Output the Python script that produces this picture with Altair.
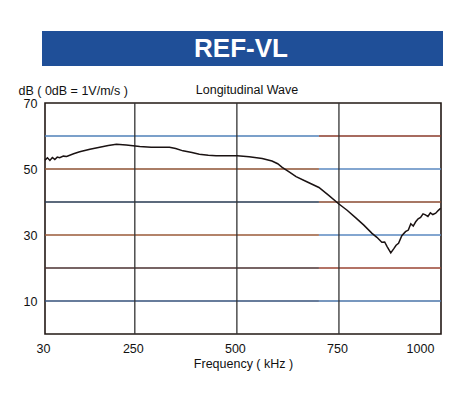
import altair as alt
import pandas as pd

# Curve values (frequency kHz, dB)
freq = [30, 36, 42, 48, 54, 60, 66, 75, 83, 100, 115, 130, 140, 164, 185, 205, 229, 262, 290, 311,
        335, 350, 368, 390, 408, 430, 449, 475, 501, 530, 562, 586, 600, 611, 628, 645, 670, 701,
        725, 750, 770, 792, 811, 831, 843, 855, 862, 868, 877, 884, 890, 896, 904, 913, 920, 926,
        932, 938, 944, 950, 956, 962, 968, 974, 980, 987, 993, 999]
db = [52.7, 53.4, 52.6, 53.5, 52.9, 53.6, 53.4, 53.9, 53.8, 54.6, 55.2, 55.7, 56.0, 56.6, 57.1, 57.5,
      57.3, 56.8, 56.6, 56.6, 56.6, 56.2, 55.5, 55.0, 54.5, 54.2, 54.0, 54.0, 54.0, 53.7, 53.2, 52.4,
      51.6, 50.5, 49.1, 47.7, 46.2, 44.4, 42.0, 39.4, 37.5, 35.1, 33.0, 30.5, 29.3, 27.8, 27.9, 26.5,
      24.6, 25.8, 26.9, 27.5, 29.8, 31.0, 31.5, 33.4, 32.7, 34.0, 34.9, 35.3, 36.4, 36.1, 35.6, 36.7,
      36.2, 36.6, 37.4, 38.1]

y_ticks = [70, 50, 30, 10]
x_ticks = [30, 250, 500, 750, 1000]
v_grid = [250, 500, 750]
h_grid = [60, 50, 40, 30, 20, 10]
left_colors = ["#4f80b8", "#8e5233", "#263850", "#9a5a38", "#4a3030", "#34507a"]
right_colors = ["#8a3a2a", "#5a88c0", "#8a4a30", "#5a88c0", "#9a4433", "#4a74a8"]
split = 701
x_min, x_max = 30, 1000

FONT = "Liberation Sans"

curve = pd.DataFrame({"f": freq, "db": db})
gl = pd.DataFrame({"y": h_grid, "x": [x_min] * 6, "x2": [split] * 6, "c": left_colors})
gr = pd.DataFrame({"y": h_grid, "x": [split] * 6, "x2": [x_max] * 6, "c": right_colors})
vg = pd.DataFrame({"x": v_grid})
one = pd.DataFrame({"t": ["REF-VL"]})

xs = alt.Scale(domain=[x_min, x_max], nice=False, zero=False)
ys = alt.Scale(domain=[0, 70], nice=False)

xax = alt.Axis(values=x_ticks, title="Frequency ( kHz )", ticks=False, domain=False,
               grid=False, labelFlush=False, labelPadding=8, format="d",
               labelOffset={"condition": {"test": "datum.value == 1000", "value": -21},
                            "value": -2},
               labelFontSize=12.5, titleFontSize=12.5, titleFontWeight="normal",
               labelColor="#111", titleColor="#111", titlePadding=3,
               labelFont=FONT, titleFont=FONT)
yax = alt.Axis(values=y_ticks, title="dB ( 0dB = 1V/m/s )", ticks=False, domain=False,
               grid=False, labelPadding=8, labelFontSize=12.5, titleFontSize=12.5,
               titleFontWeight="normal", titleAngle=0, titleAlign="left",
               titleBaseline="alphabetic", titleX=-27, titleY=-9,
               labelColor="#111", titleColor="#111", labelFont=FONT, titleFont=FONT)

grid_left = alt.Chart(gl).mark_rule(strokeWidth=1.3).encode(
    x=alt.X("x:Q", scale=xs, axis=xax), x2="x2",
    y=alt.Y("y:Q", scale=ys, axis=yax),
    color=alt.Color("c:N", scale=None))
grid_right = alt.Chart(gr).mark_rule(strokeWidth=1.3).encode(
    x=alt.X("x:Q", scale=xs, axis=xax), x2="x2",
    y=alt.Y("y:Q", scale=ys, axis=yax),
    color=alt.Color("c:N", scale=None))
vlines = alt.Chart(vg).mark_rule(color="#333333", strokeWidth=1.3).encode(
    x=alt.X("x:Q", scale=xs, axis=xax))

line = alt.Chart(curve).mark_line(color="#1a1212", strokeWidth=1.5).encode(
    x=alt.X("f:Q", scale=xs, axis=xax),
    y=alt.Y("db:Q", scale=ys, axis=yax))

banner = alt.Chart(one).mark_rect(color="#1f4f98").encode(
    x=alt.value(-3), x2=alt.value(398), y=alt.value(-72), y2=alt.value(-37))
banner_text = alt.Chart(one).mark_text(color="white", fontSize=26, fontWeight="bold", font=FONT,
                                       align="center", baseline="middle").encode(
    x=alt.value(196), y=alt.value(-54), text="t:N")
subtitle = alt.Chart(one).mark_text(color="#111", fontSize=12.5, font=FONT, align="center",
                                    baseline="alphabetic").encode(
    x=alt.value(202), y=alt.value(-9), text=alt.value("Longitudinal Wave"))

chart = alt.layer(grid_left, grid_right, vlines, line, banner, banner_text, subtitle).properties(
    width=396, height=231,
    padding={"left": 10, "top": 23, "right": 5, "bottom": 5},
    background="white",
).configure_view(stroke="#221814", strokeWidth=1.6)

chart.save("out.html", embed_options={"renderer": "svg", "actions": False})
